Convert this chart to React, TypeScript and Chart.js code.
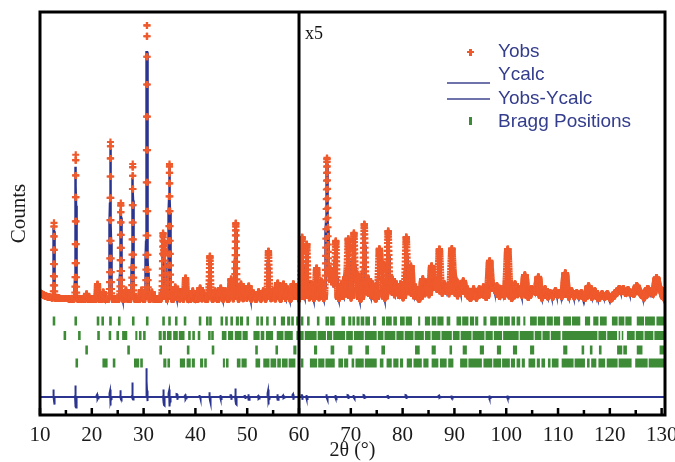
import React, { useEffect, useRef } from 'react';
import { Chart, registerables } from 'chart.js';

Chart.register(...registerables);

// ---------------- data ----------------
const X_MIN = 10;
const X_MAX = 130.65;
const STEP = 0.02;
const xTickValues = [10, 20, 30, 40, 50, 60, 70, 80, 90, 100, 110, 120, 130];
const SCALE_BREAK = 60; // intensities right of this are shown x5

// background level (counts above the flat background)
const bgPos = [10, 11, 12, 14, 20, 130.65];
const bgLevel = [6, 3, 1.5, 0.5, 0, 0];

// reflections: position (2θ), observed height, calculated height
const peakPos = [
  12.7, 16.9, 19.0, 21.1, 22.2, 23.6, 25.6, 26.6, 27.9, 29.6, 30.65, 31.6, 33.75, 34.05, 35.0,
  36.1, 36.6, 37.3, 38.1, 39.5, 40.9, 41.6, 42.8, 43.8, 44.9, 45.8, 46.9, 47.8, 48.8, 49.6,
  50.3, 51.2, 52.2, 53.1, 54.1, 55.0, 55.9, 57.0, 57.8, 58.9, 59.5,
  60.6, 61.5, 62.4, 63.4, 64.3, 65.4, 66.0, 66.5, 67.1, 68.2, 69.0, 69.5, 70.6, 71.2, 72.6,
  73.4, 74.2, 75.5, 76.0, 77.2, 78.0, 78.8, 79.6, 80.7, 81.6, 82.5, 83.9, 84.7, 85.6, 86.3,
  87.1, 88.0, 88.6, 89.5, 90.1, 91.0, 91.7, 92.5, 93.7, 94.8, 95.6, 96.8, 97.5, 98.2, 99.2,
  100.3, 101.7, 102.6, 103.6, 104.8, 105.4, 106.2, 107.5, 108.5, 109.5, 110.3, 111.4, 112.6,
  113.6, 114.5, 115.9, 117.1, 118.5, 119.5, 121.0, 121.8, 122.6, 123.5, 124.3, 125.2, 126.0,
  127.3, 128.0, 129.0, 129.8,
];
const peakObs = [
  75, 144, 5, 15, 7, 157, 96, 9, 135, 9, 275, 7, 65, 55, 135,
  12, 10, 7, 21, 8, 11, 6, 43, 8, 11, 8, 20, 76, 15, 10,
  13, 6, 7, 8, 48, 8, 16, 15, 10, 15, 12,
  62, 55, 15, 31, 18, 141, 30, 22, 58, 15, 20, 60, 66, 25, 75,
  20, 15, 49, 35, 68, 20, 15, 15, 62, 33, 12, 20, 15, 33, 18,
  50, 15, 12, 50, 18, 10, 18, 10, 10, 10, 12, 38, 12, 13, 10,
  50, 15, 10, 24, 10, 8, 22, 10, 6, 8, 6, 26, 8,
  6, 6, 13, 8, 5, 5, 6, 10, 10, 9, 6, 13, 6,
  10, 6, 21, 10,
];
const peakCalc = [
  70, 132, 5, 14, 7, 150, 90, 9, 121, 9, 248, 7, 60, 52, 132,
  11, 10, 7, 20, 8, 11, 6, 40, 8, 11, 8, 19, 72, 14, 10,
  12, 6, 7, 8, 45, 8, 15, 14, 10, 14, 12,
  58, 52, 14, 29, 17, 136, 28, 21, 56, 14, 19, 57, 64, 24, 72,
  19, 14, 47, 33, 66, 19, 14, 14, 60, 31, 12, 19, 14, 31, 17,
  48, 14, 12, 48, 17, 10, 17, 10, 10, 10, 12, 37, 12, 13, 10,
  48, 14, 10, 23, 10, 8, 21, 10, 6, 8, 6, 25, 8,
  6, 6, 13, 8, 5, 5, 6, 10, 10, 9, 6, 13, 6,
  10, 6, 20, 10,
];

// difference curve: spike positions with upward / downward excursions
const diffPos = [
  12.7, 16.9, 21.1, 23.6, 25.6, 27.9, 30.65, 33.9, 35.0, 36.5, 38.1, 40.9, 42.8, 44.9,
  46.9, 47.8, 49.6, 50.3, 52.2, 54.1, 55.9, 57.0, 58.9, 60.6, 61.5, 65.4, 67.1, 69.5,
  70.6, 72.6, 77.2, 80.7, 87.1, 89.5, 96.8, 100.3,
];
const diffUp = [
  8, 12, 3, 8, 7, 15, 29, 8, 8, 3, 3, 2, 5, 2,
  3, 9, 2, 3, 2, 8, 3, 2, 3, 3, 2, 3, 2, 2,
  2, 2, 2, 2, 1.5, 1.5, 1.5, 1.5,
];
const diffDown = [
  8, 11, 3, 9, 3, 3, 5, 9, 10, 3, 3, 2, 6, 2,
  3, 8, 2, 3, 2, 8, 3, 2, 3, 3, 2, 3, 2, 2,
  2, 2, 2, 2, 1.5, 1.5, 1.5, 1.5,
];

// Bragg positions of the four phases (single reflections or dense groups [from, to])
type Bragg = number | [number, number];
const braggPhase1: Bragg[] = [
  12.7, 16.9, 21.2, 22.1, 23.6, 25.3, 28.0, 30.7, 33.85, 35.0, 36.3, 38.0, 40.9, 42.3, 42.9,
  45.1, 46.0, 47.0, [47.8, 48.4], [48.6, 49.2], 50.1, 52.0, 52.8, 53.9, 55.3, [56.5, 57.3],
  [57.7, 58.3], [58.5, 59.0], 59.7, 60.6, 61.8, 63.7, [65.1, 65.8], [66.0, 66.9], [68.2, 68.9],
  [69.5, 70.1], [70.3, 70.8], [71.1, 71.7], [71.9, 72.6], [72.8, 73.7], [74.3, 74.9],
  [76.0, 76.6], [76.8, 77.9], [78.2, 78.9], [79.5, 80.4], [80.6, 81.8], [83.0, 83.4],
  [84.3, 85.3], [85.6, 86.5], [86.7, 87.9], [88.5, 89.2], [90.4, 91.3], [91.5, 92.7],
  [93.0, 93.8], [94.0, 94.6], [95.6, 96.2], [96.9, 98.2], [98.5, 99.4], [99.6, 100.7],
  [101.0, 101.7], [102.0, 102.7], [103.3, 103.7], [104.6, 105.9], [106.1, 107.5],
  [107.8, 109.0], [109.2, 110.4], [111.0, 112.5], [112.7, 114.3], [115.2, 116.2],
  [116.8, 117.8], [118.1, 119.4], [120.4, 121.5], [121.7, 122.8], [123.0, 124.2],
  [125.2, 126.6], [126.8, 128.7], [129.0, 130.7],
];
const braggPhase2: Bragg[] = [
  14.8, 17.6, 21.3, 23.5, 25.0, 26.1, 26.6, [28.4, 28.8], [29.1, 29.6], [29.9, 30.4],
  [32.9, 33.5], [33.7, 34.3], [34.5, 35.4], [35.7, 36.6], [36.8, 37.9], [38.6, 39.1],
  [39.4, 39.9], 40.7, 42.7, 43.3, [45.1, 46.0], [46.3, 47.3], [47.6, 48.9], [49.1, 50.1],
  [51.2, 52.4], [52.6, 53.3], [53.6, 55.0], [55.7, 57.0], [57.2, 58.8], [59.5, 60.9],
  [61.1, 63.4], [63.6, 65.2], [65.4, 66.4], [66.6, 68.9], [69.1, 70.4], [70.6, 72.5],
  [72.7, 75.0], [75.2, 76.3], [76.5, 78.6], [78.8, 80.2], [80.4, 82.1], [82.3, 84.1],
  [84.3, 85.4], [85.6, 87.3], [87.5, 89.5], [89.7, 91.0], [91.2, 93.3], [93.5, 95.8],
  [96.0, 97.4], [97.6, 99.2], [99.4, 102.4], [102.6, 105.3], [105.5, 106.8], [107.0, 108.4],
  [108.6, 110.5], [110.8, 117.6], [117.8, 119.3], [119.5, 121.4], [121.7, 122.0],
  [122.3, 122.6], [123.3, 124.8], [125.0, 126.5], [126.7, 128.4], [128.6, 130.7],
];
const braggPhase3: Bragg[] = [
  19.0, 27.1, 33.3, 38.6, 43.4, 51.8, 55.7, [58.9, 59.5], [62.9, 63.5], [66.1, 66.8],
  [69.5, 70.3], [72.8, 73.5], [75.9, 76.6], [82.4, 83.3], [85.6, 86.4], 89.3, [91.6, 92.4],
  [94.9, 95.7], [98.2, 99.0], [101.3, 102.1], [104.6, 105.4], [111.0, 111.8], 114.8, 116.4,
  [117.9, 118.4], [121.4, 122.4], [122.6, 123.3], [125.2, 126.3], [129.6, 130.7],
];
const braggPhase4: Bragg[] = [
  17.1, 22.3, 22.8, 24.3, 28.4, 28.9, 29.6, [33.8, 34.4], [34.6, 35.1], [37.0, 38.0],
  [38.3, 39.1], [39.3, 39.9], [40.9, 41.5], [41.7, 42.2], [45.3, 45.7], [45.9, 46.4],
  [48.0, 48.7], [48.9, 49.9], [51.6, 52.5], [53.1, 54.3], [54.5, 55.6], [55.8, 56.5],
  [56.7, 57.8], [58.0, 59.3], 60.6, [62.1, 63.5], [63.7, 64.9], [65.1, 66.9], [67.6, 68.5],
  [68.7, 69.5], 70.4, [70.9, 72.5], [72.7, 75.0], [75.6, 76.3], [76.9, 77.9], [78.2, 79.2],
  [79.5, 80.1], [80.8, 81.8], [82.1, 83.7], [84.0, 85.0], [85.6, 86.9], [87.2, 88.5],
  [88.8, 89.8], [91.1, 92.5], [92.7, 95.3], [95.6, 97.3], [97.5, 99.0], [99.2, 100.7],
  [100.9, 101.7], [102.0, 102.7], [103.0, 103.6], [104.3, 105.6], [105.9, 106.5],
  [106.8, 107.5], 108.3, [108.8, 110.1], [110.7, 113.0], [113.2, 115.2], [115.6, 116.1],
  [116.4, 117.4], [117.8, 119.1], [119.4, 121.5], [121.7, 124.2], [124.9, 127.3], [127.5, 130.7],
];

// ---------------- layout constants ----------------
const Y_MIN = -116;
const Y_MAX = 287;
const BRAGG_LEVELS = [-22, -36.5, -51, -64];
const DIFF_BASE = -98;
const OBS_COLOR = '#ef5a2d';
const CALC_COLOR = '#2b3590';
const BRAGG_COLOR = '#3d8b37';
const LEGEND_TEXT = '#333d8c';
const SERIF = '"Liberation Serif", "Times New Roman", serif';
const SANS = '"Liberation Sans", Arial, sans-serif';

// ---------------- builders ----------------
function background(x: number): number {
  for (let i = 0; i < bgPos.length - 1; i++) {
    if (x <= bgPos[i + 1]) {
      const t = (x - bgPos[i]) / (bgPos[i + 1] - bgPos[i]);
      return bgLevel[i] + t * (bgLevel[i + 1] - bgLevel[i]);
    }
  }
  return bgLevel[bgLevel.length - 1];
}

function peakWidth(p: number): number {
  return 0.058 + 0.0020 * (p - 10);
}

function gridX(): number[] {
  const n = Math.round((X_MAX - X_MIN) / STEP);
  const xs: number[] = [];
  for (let i = 0; i <= n; i++) xs.push(+(X_MIN + i * STEP).toFixed(3));
  return xs;
}

function buildPattern(heights: number[]) {
  return gridX().map((x) => {
    let y = background(x);
    for (let k = 0; k < peakPos.length; k++) {
      const d = (x - peakPos[k]) / peakWidth(peakPos[k]);
      if (Math.abs(d) < 6) y += heights[k] * Math.exp(-0.5 * d * d);
    }
    return { x, y };
  });
}

function buildDiff() {
  const s = 0.04;
  return gridX().map((x) => {
    let y = DIFF_BASE;
    for (let k = 0; k < diffPos.length; k++) {
      const du = (x - (diffPos[k] - 0.05)) / s;
      const dd = (x - (diffPos[k] + 0.05)) / s;
      if (Math.abs(du) < 6) y += diffUp[k] * Math.exp(-0.5 * du * du);
      if (Math.abs(dd) < 6) y -= diffDown[k] * Math.exp(-0.5 * dd * dd);
    }
    return { x, y };
  });
}

function buildBragg(list: Bragg[], level: number) {
  const out: { x: number; y: number | null }[] = [];
  for (const item of list) {
    const [a, b] = typeof item === 'number' ? [item - 0.25, item + 0.25] : item;
    out.push({ x: a, y: level }, { x: b, y: level }, { x: b, y: null });
  }
  return out;
}

const framePlugin = {
  id: 'frame',
  afterDraw(chart: any) {
    const { ctx, chartArea, scales } = chart;
    const { left, right, top, bottom } = chartArea;
    const x = scales.x;
    ctx.save();
    ctx.strokeStyle = '#000';
    ctx.lineWidth = 2.5;
    for (let v = 10; v <= 130; v += 5) {
      const px = x.getPixelForValue(v);
      const len = v % 10 === 0 ? 7 : 5;
      ctx.beginPath();
      ctx.moveTo(px, bottom);
      ctx.lineTo(px, bottom - len);
      ctx.stroke();
    }
    ctx.lineWidth = 3;
    const xb = x.getPixelForValue(SCALE_BREAK);
    ctx.beginPath();
    ctx.moveTo(xb, top);
    ctx.lineTo(xb, bottom);
    ctx.stroke();
    ctx.strokeRect(left, top, right - left, bottom - top);
    ctx.restore();
  },
};

export default function App() {
  const canvasRef = useRef<HTMLCanvasElement | null>(null);

  useEffect(() => {
    if (!canvasRef.current) return;
    const obs = buildPattern(peakObs);
    const calc = buildPattern(peakCalc);
    const diff = buildDiff();
    const phases = [braggPhase1, braggPhase2, braggPhase3, braggPhase4];

    const chart = new Chart(canvasRef.current, {
      type: 'scatter',
      data: {
        datasets: [
          {
            label: 'Yobs',
            data: obs,
            showLine: false,
            pointStyle: 'cross',
            pointRadius: 3.5,
            pointBorderWidth: 2.2,
            borderColor: OBS_COLOR,
            backgroundColor: OBS_COLOR,
            order: 2,
          },
          {
            label: 'Ycalc',
            data: calc,
            showLine: true,
            pointRadius: 0,
            borderColor: CALC_COLOR,
            borderWidth: 2.5,
            order: 3,
          },
          {
            label: 'Yobs-Ycalc',
            data: diff,
            showLine: true,
            pointRadius: 0,
            borderColor: CALC_COLOR,
            borderWidth: 2,
            order: 0,
          },
          ...phases.map((ph, i) => ({
            label: i === 0 ? 'Bragg Positions' : `Bragg Positions ${i + 1}`,
            data: buildBragg(ph, BRAGG_LEVELS[i]),
            showLine: true,
            spanGaps: false,
            pointRadius: 0,
            borderColor: BRAGG_COLOR,
            borderWidth: 9,
            borderCapStyle: 'butt' as const,
            order: 1,
          })),
        ],
      },
      options: {
        animation: false,
        responsive: false,
        events: [],
        layout: { padding: { left: 0, right: 10, top: 12, bottom: 0 } },
        plugins: { legend: { display: false }, tooltip: { enabled: false } },
        scales: {
          x: {
            type: 'linear',
            min: X_MIN,
            max: X_MAX,
            afterBuildTicks: (s: any) => {
              s.ticks = xTickValues.map((v) => ({ value: v }));
            },
            afterFit: (s: any) => {
              s.height = 47;
              s.paddingLeft = 0;
              s.paddingRight = 0;
            },
            grid: { display: false, drawTicks: false },
            border: { display: false },
            ticks: {
              autoSkip: false,
              maxRotation: 0,
              padding: 8,
              color: '#1a1a1a',
              font: { family: SERIF, size: 21 },
            },
            title: {
              display: true,
              text: '2θ (°)',
              color: '#1a1a1a',
              font: { family: SERIF, size: 20 },
              padding: { top: 0, bottom: -1 },
            },
          },
          y: {
            type: 'linear',
            min: Y_MIN,
            max: Y_MAX,
            afterFit: (s: any) => {
              s.width = 40;
              s.paddingTop = 0;
              s.paddingBottom = 0;
            },
            grid: { display: false, drawTicks: false },
            border: { display: false },
            ticks: { display: false },
            title: {
              display: true,
              text: 'Counts',
              color: '#1a1a1a',
              font: { family: SERIF, size: 21 },
              padding: { top: 7, bottom: 0 },
            },
          },
        },
      },
      plugins: [framePlugin],
    } as any);

    return () => chart.destroy();
  }, []);

  const legendText: React.CSSProperties = {
    position: 'absolute',
    left: 498,
    fontFamily: SANS,
    fontSize: 19,
    lineHeight: '22px',
    color: LEGEND_TEXT,
    whiteSpace: 'nowrap',
  };

  return (
    <div style={{ position: 'fixed', left: 0, top: 0, width: 675, height: 462, background: '#fff' }}>
      <canvas ref={canvasRef} width={675} height={462} style={{ position: 'absolute', left: 0, top: 0 }} />
      <div style={{ position: 'absolute', left: 305, top: 23, fontFamily: SERIF, fontSize: 18, lineHeight: '20px', color: '#111' }}>
        x5
      </div>
      {/* legend */}
      <div style={{ position: 'absolute', left: 467, top: 51, width: 7, height: 2.2, background: OBS_COLOR }} />
      <div style={{ position: 'absolute', left: 469.4, top: 48.6, width: 2.2, height: 7, background: OBS_COLOR }} />
      <div style={{ ...legendText, top: 40 }}>Yobs</div>
      <div style={{ position: 'absolute', left: 447, top: 82, width: 43, height: 1.5, background: '#6f73ab' }} />
      <div style={{ ...legendText, top: 63 }}>Ycalc</div>
      <div style={{ position: 'absolute', left: 447, top: 98, width: 43, height: 1.5, background: '#6f73ab' }} />
      <div style={{ ...legendText, top: 87 }}>Yobs-Ycalc</div>
      <div style={{ position: 'absolute', left: 469, top: 117, width: 2.5, height: 8, background: BRAGG_COLOR }} />
      <div style={{ ...legendText, top: 110 }}>Bragg Positions</div>
    </div>
  );
}
